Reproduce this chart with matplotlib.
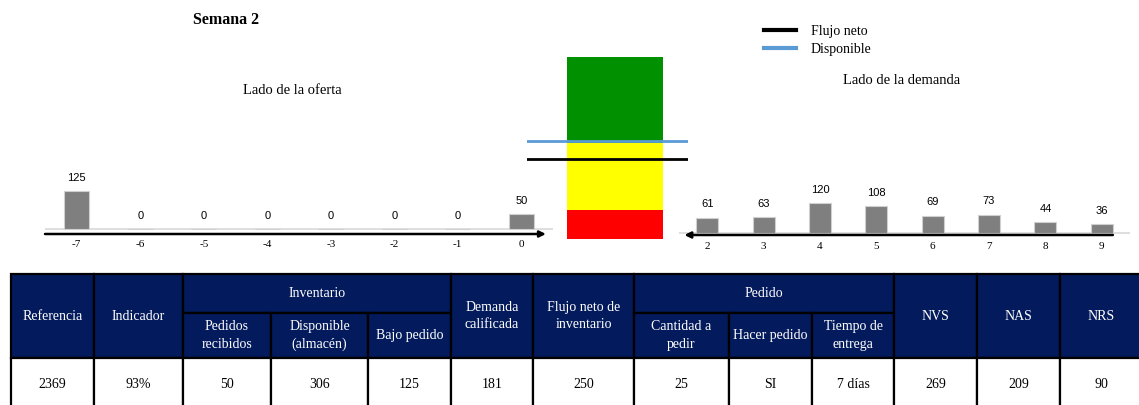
import numpy as np
import matplotlib.pyplot as plt
from matplotlib.lines import Line2D
from matplotlib.patches import Rectangle

# Supply side (days -7..0) and demand side (days 2..9)
supply_days = [-7, -6, -5, -4, -3, -2, -1, 0]
supply_qty = [125, 0, 0, 0, 0, 0, 0, 50]
demand_days = [2, 3, 4, 5, 6, 7, 8, 9]
demand_qty = [61, 63, 120, 108, 69, 73, 44, 36]

# Buffer zones (size of each zone) and position lines
zone_names = ["Rojo", "Amarillo", "Verde"]
zone_sizes = [90, 209, 269]
zone_colors = ["#FF0000", "#FFFF00", "#009000"]
flujo_neto = 250
disponible = 306

# Summary table
group_headers = ["Referencia", "Indicador", "Inventario", "Demanda\ncalificada",
                 "Flujo neto de\ninventario", "Pedido", "NVS", "NAS", "NRS"]
group_spans = [1, 1, 3, 1, 1, 3, 1, 1, 1]
sub_headers = {2: "Pedidos\nrecibidos", 3: "Disponible\n(almacén)", 4: "Bajo pedido",
               7: "Cantidad a\npedir", 8: "Hacer pedido", 9: "Tiempo de\nentrega"}
row_values = ["2369", "93%", "50", "306", "125", "181", "250", "25", "SI", "7 días",
              "269", "209", "90"]

W, H = 1139, 405
SERIF = "Liberation Serif"
SANS = "Liberation Sans"
NAVY = "#031A5C"
BAR = "#7F7F7F"

fig = plt.figure(figsize=(W / 100, H / 100), dpi=100)


def px_axes(x0, y0, x1, y1):
    return fig.add_axes([x0 / W, 1 - y1 / H, (x1 - x0) / W, (y1 - y0) / H])


def fig_text(x, y, s, **kw):
    fig.text(x / W, 1 - y / H, s, **kw)


def bar_panel(ax, days, qty, px_per_unit, height_px, below_px, arrow_from, arrow_to, label_pad):
    ax.set_ylim(-below_px / px_per_unit, (height_px - below_px) / px_per_unit)
    ax.bar(days, qty, width=0.39, color=BAR, edgecolor="#D0D0D0", linewidth=0.8, zorder=2)
    ax.axhline(0, color="#D9D9D9", lw=1.2, zorder=1)
    for d, q in zip(days, qty):
        ax.annotate(str(q), (d, q), xytext=(0, 6), textcoords="offset points",
                    ha="center", va="bottom", fontsize=8, family=SANS)
    ax.annotate("", xy=(arrow_to, 0), xytext=(arrow_from, 0),
                xycoords="axes fraction", textcoords="axes fraction",
                arrowprops=dict(arrowstyle="-|>", color="black", lw=1.8,
                                mutation_scale=9, shrinkA=0, shrinkB=0))
    ax.set_xticks(days)
    ax.set_xticklabels([str(d) for d in days], family=SERIF, fontsize=8)
    ax.tick_params(axis="x", length=0, pad=label_pad)
    ax.set_yticks([])
    for s in ax.spines.values():
        s.set_visible(False)
    ax.patch.set_alpha(0)


# Supply side
ax_s = px_axes(45, 174, 553, 234)
ax_s.set_xlim(-7.5, 0.5)
bar_panel(ax_s, supply_days, supply_qty, 0.3, 60, 5, 0.0, 0.986, 4)

# Demand side
ax_d = px_axes(679, 175, 1130, 235)
ax_d.set_xlim(1.5, 9.5)
bar_panel(ax_d, demand_days, demand_qty, 0.25, 60, 2, 0.962, 0.012, 5)

# Buffer column
ax_b = px_axes(527, 57, 688, 239)
ax_b.set_xlim(0, 1)
ax_b.set_ylim(0, sum(zone_sizes))
bottom = 0
for name, size, color in zip(zone_names, zone_sizes, zone_colors):
    ax_b.bar(0.5466, size, bottom=bottom, width=0.596, color=color, linewidth=0)
    bottom += size
l_disp = ax_b.axhline(disponible, color="#5B9BD5", lw=2)
l_flujo = ax_b.axhline(flujo_neto, color="black", lw=2)
ax_b.axis("off")

h_flujo = Line2D([], [], color="black", lw=3)
h_disp = Line2D([], [], color="#5B9BD5", lw=3)
fig.legend([h_flujo, h_disp], ["Flujo neto", "Disponible"], loc="upper left",
           bbox_to_anchor=(758 / W, 1 - 19 / H), frameon=False, handlelength=2.3,
           handletextpad=1.1, labelspacing=0.4, borderaxespad=0,
           prop=dict(family=SERIF, size=10))

fig_text(193, 20, "Semana 2", family=SERIF, fontsize=11.5, fontweight="bold", va="center")
fig_text(243, 90, "Lado de la oferta", family=SERIF, fontsize=10.5, va="center")
fig_text(843, 81, "Lado de la demanda", family=SERIF, fontsize=10.5, va="center")

# Table drawn in pixel space
ax_t = fig.add_axes([0, 0, 1, 1])
ax_t.set_xlim(0, W)
ax_t.set_ylim(H, 0)
ax_t.axis("off")
col_edges = [11, 94, 183, 271, 368, 451, 533, 634, 729, 812, 894, 977, 1060, 1143]
row_edges = [274, 313, 358, 412]


def cell(c0, c1, r0, r1, text, fill, color):
    x0, x1 = col_edges[c0], col_edges[c1]
    y0, y1 = row_edges[r0], row_edges[r1]
    ax_t.add_patch(Rectangle((x0, y0), x1 - x0, y1 - y0, facecolor=fill,
                             edgecolor="black", lw=1.6, clip_on=False))
    ax_t.text((x0 + x1) / 2, (y0 + y1) / 2, text, ha="center", va="center",
              color=color, family=SERIF, fontsize=10, linespacing=1.45)


col = 0
for text, span in zip(group_headers, group_spans):
    if span == 1:
        cell(col, col + 1, 0, 2, text, NAVY, "white")
    else:
        cell(col, col + span, 0, 1, text, NAVY, "white")
        for k in range(col, col + span):
            cell(k, k + 1, 1, 2, sub_headers[k], NAVY, "white")
    col += span

for k, v in enumerate(row_values):
    cell(k, k + 1, 2, 3, v, "white", "black")

fig.savefig("out.png", dpi=100)
